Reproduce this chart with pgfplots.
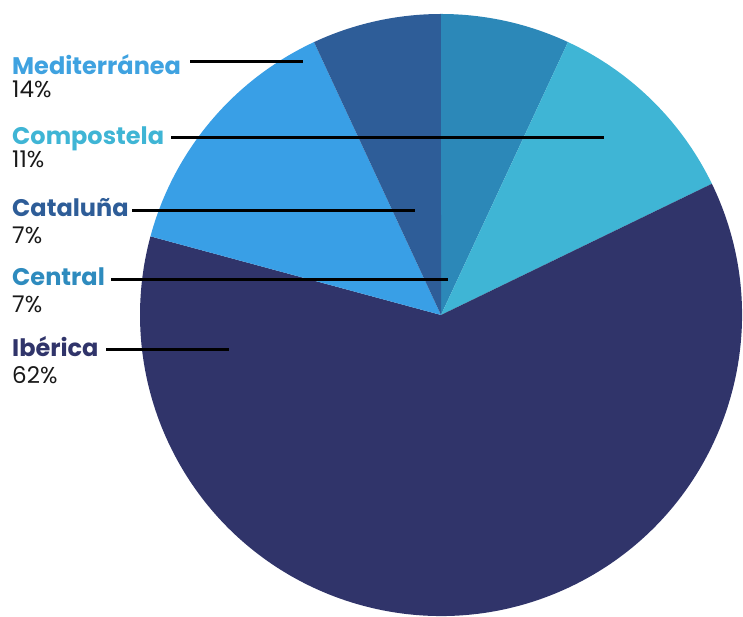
\documentclass[border=0pt]{standalone}
\usepackage{pgfplots}
\pgfplotsset{compat=1.18}
\usepackage{fontspec}
\setmainfont{Poppins}

\definecolor{central}{HTML}{2C88B8}
\definecolor{compostela}{HTML}{3FB5D5}
\definecolor{iberica}{HTML}{30346A}
\definecolor{mediter}{HTML}{399FE6}
\definecolor{cataluna}{HTML}{2E5D98}
\definecolor{mediterlab}{HTML}{3FA2E0}
\definecolor{centrallab}{HTML}{2E8BBE}

% shares, clockwise from the top
\def\vCentral{7}
\def\vCompostela{11}
\def\vIberica{62}
\def\vMediter{14}
\def\vCataluna{7}

\begin{document}
\begin{tikzpicture}
\pgfmathsetmacro\tot{\vCentral+\vCompostela+\vIberica+\vMediter+\vCataluna}
\pgfmathsetmacro\aA{90}
\pgfmathsetmacro\aB{\aA-\vCentral/\tot*360}
\pgfmathsetmacro\aC{\aB-\vCompostela/\tot*360}
\pgfmathsetmacro\aD{\aC-\vIberica/\tot*360}
\pgfmathsetmacro\aE{\aD-\vMediter/\tot*360}
\pgfmathsetmacro\aF{\aE-\vCataluna/\tot*360}
\begin{axis}[
  at={(0,0)}, anchor=south west,
  width=743pt, height=617pt, scale only axis,
  xmin=0, xmax=743, ymin=0, ymax=617,
  hide axis, clip=false,
]
\fill[central]    (axis cs:441,302) -- ++(\aA:301pt) arc[start angle=\aA, end angle=\aB, radius=301pt] -- cycle;
\fill[compostela] (axis cs:441,302) -- ++(\aB:301pt) arc[start angle=\aB, end angle=\aC, radius=301pt] -- cycle;
\fill[iberica]    (axis cs:441,302) -- ++(\aC:301pt) arc[start angle=\aC, end angle=\aD, radius=301pt] -- cycle;
\fill[mediter]    (axis cs:441,302) -- ++(\aD:301pt) arc[start angle=\aD, end angle=\aE, radius=301pt] -- cycle;
\fill[cataluna]   (axis cs:441,302) -- ++(\aE:301pt) arc[start angle=\aE, end angle=\aF, radius=301pt] -- cycle;

% leader lines
\draw[line width=3pt] (axis cs:190,555) -- (axis cs:303,555);
\draw[line width=3pt] (axis cs:171,479) -- (axis cs:604,479);
\draw[line width=3pt] (axis cs:132,406) -- (axis cs:415,406);
\draw[line width=3pt] (axis cs:111,337) -- (axis cs:448,337);
\draw[line width=3pt] (axis cs:106,267) -- (axis cs:229,267);

\tikzset{lab/.style={anchor=base west, inner sep=0pt, font=\bfseries\fontsize{24}{28}\selectfont},
         pct/.style={anchor=base west, inner sep=0pt, font=\fontsize{23}{27}\selectfont, text=black!90}}
\node[lab, text=mediterlab] at (axis cs:12,542) {Mediterránea};
\node[pct] at (axis cs:12,519) {14\%};
\node[lab, text=compostela] at (axis cs:12,472) {Compostela};
\node[pct] at (axis cs:12,449) {11\%};
\node[lab, text=cataluna] at (axis cs:12,400) {Cataluña};
\node[pct] at (axis cs:12,373) {7\%};
\node[lab, text=centrallab] at (axis cs:12,331) {Central};
\node[pct] at (axis cs:12,304) {7\%};
\node[lab, text=iberica] at (axis cs:12,260) {Ibérica};
\node[pct] at (axis cs:12,233) {62\%};
\end{axis}
\pgfresetboundingbox
\path[use as bounding box] (0,0) rectangle (743pt,617pt);
\end{tikzpicture}
\end{document}
